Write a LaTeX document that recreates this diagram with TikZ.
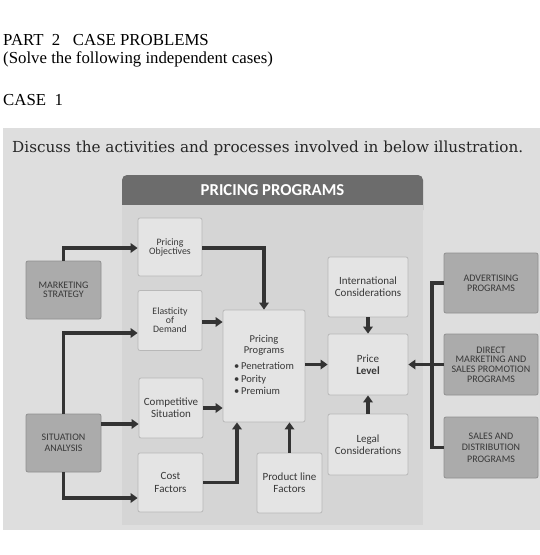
\documentclass[tikz,border=0pt]{standalone}
\usepackage{fontspec}
\setmainfont{Liberation Serif}
\newfontfamily\diagfont{Carlito}
\newfontfamily\taskfont{DejaVu Serif}
\usetikzlibrary{arrows.meta}
\usetikzlibrary{calc}
\usetikzlibrary{positioning}

\definecolor{sheetgray}{HTML}{DEDEDE}
\definecolor{panelgray}{HTML}{D5D5D5}
\definecolor{headgray}{HTML}{6C6C6C}
\definecolor{boxfill}{HTML}{E4E4E4}
\definecolor{boxedge}{HTML}{B8B8B8}
\definecolor{darkfill}{HTML}{ABABAB}
\definecolor{darkedge}{HTML}{909090}
\definecolor{boxtext}{HTML}{383838}
\definecolor{arrowgray}{HTML}{333333}

\tikzset{
  lightbox/.style={draw=boxedge,fill=boxfill,line width=0.8pt,rounded corners=2pt,
    minimum width=64pt,minimum height=60pt,inner sep=1pt,align=center,text=boxtext,
    font=\diagfont\fontsize{11}{12.3}\selectfont},
  tightbox/.style={lightbox,font=\diagfont\fontsize{9.8}{9}\selectfont},
  darkbox/.style={draw=darkedge,fill=darkfill,line width=0.8pt,rounded corners=2pt,
    minimum width=75pt,minimum height=58pt,inner sep=1pt,align=center,text=boxtext,
    font=\diagfont\fontsize{10}{9.8}\selectfont},
  flow/.style={draw=arrowgray,line width=3.2pt,-{Triangle[width=9.5pt,length=7pt]}},
  link/.style={draw=arrowgray,line width=3.2pt},
  pagetext/.style={anchor=base west,inner sep=0pt,font=\fontsize{16.8}{20}\selectfont}
}

\begin{document}
\begin{tikzpicture}[x=1pt,y=-1pt]

  \useasboundingbox (0,0) rectangle (540,555);

  % heading of the page
  \node [pagetext] (part) at (3,45) {PART\ \ 2\ \ \ CASE PROBLEMS};
  \node [pagetext] (solve) at (3,63) {(Solve the following independent cases)};
  \node [pagetext] (case) at (3,105) {CASE\ \ 1};

  % grey sheet and the pricing panel
  \fill [sheetgray] (3,128) rectangle (540,530);
  \node [anchor=base west,inner sep=0pt,font=\taskfont\fontsize{15.2}{18}\selectfont,text=black!85] (task) at (12,152)
    {Discuss the activities and processes involved in below illustration.};
  \fill [headgray,rounded corners=5pt] (122,175) rectangle (423,215);
  \fill [panelgray] (122,205) rectangle (423,525);
  \node [text=white,font=\diagfont\bfseries\fontsize{16.7}{18}\selectfont] (head) at (272.5,190) {PRICING PROGRAMS};

  % boxes inside the panel
  \node [tightbox,minimum height=58pt] (po) at (170,247) {Pricing\\Objectives};
  \node [tightbox] (ed) at (170,320.5) {Elasticity\\of\\Demand};
  \node [lightbox] (cs) at (171,408) {Competitive\\Situation};
  \node [lightbox,minimum width=65pt,minimum height=59pt] (cf) at (170.5,482.5) {Cost\\Factors};
  \node [lightbox,minimum width=82pt,minimum height=112pt,font=\diagfont\fontsize{10.5}{12.5}\selectfont] (pp) at (264,366)
    {\begin{tabular}{@{}l@{}}
       \multicolumn{1}{@{}c@{}}{Pricing}\\[-1.5pt]
       \multicolumn{1}{@{}c@{}}{Programs}\\[3.5pt]
       \textbullet\,Penetratiom\\[0.5pt]
       \textbullet\,Pority\\[0pt]
       \textbullet\,Premium
     \end{tabular}};
  \node [lightbox,minimum width=65pt] (pl) at (289.5,483) {Product line\\Factors};
  \node [lightbox,minimum width=80pt] (ic) at (368,287) {International\\Considerations};
  \node [lightbox,minimum width=80pt,minimum height=61pt] (pr) at (368,364.5) {Price\\\textbf{Level}};
  \node [lightbox,minimum width=80pt,minimum height=61pt] (lc) at (368,444.5) {Legal\\Considerations};

  % boxes outside the panel
  \node [darkbox,font=\diagfont\fontsize{10}{9}\selectfont] (ms) at (63.5,290) {MARKETING\\STRATEGY};
  \node [darkbox,font=\diagfont\fontsize{10}{11}\selectfont] (sa) at (63.5,443) {SITUATION\\ANALYSIS};
  \node [darkbox,minimum width=94pt,minimum height=60pt] (adv) at (491,283) {ADVERTISING\\PROGRAMS};
  \node [darkbox,minimum width=94pt,minimum height=61pt] (dm) at (491,364.5)
    {DIRECT\\MARKETING AND\\SALES PROMOTION\\PROGRAMS};
  \node [darkbox,minimum width=94pt,minimum height=61pt,font=\diagfont\fontsize{10}{11.5}\selectfont] (sd) at (491,447.5)
    {SALES AND\\DISTRIBUTION\\PROGRAMS};
  \coordinate (bus) at (432,364.5);

  % connectors
  \draw [flow] (ms.north) |- ([yshift=-1pt]po.west);
  \draw [flow] ([yshift=-1pt]po.east) -| (pp.north);
  \draw [flow] ([yshift=-1.5pt]ed.east) -- ([yshift=-1.5pt]ed.east -| pp.west);
  \draw [flow] (cs.east) -- (cs.east -| pp.west);
  \draw [flow] (sa.north) |- ([yshift=-12.5pt]ed.west);
  \draw [flow] ([yshift=19pt]sa.east) -- ([yshift=19pt]sa.east -| cs.west);
  \draw [flow] (sa.south) |- ([yshift=-15.5pt]cf.west);
  \draw [flow] (cf.east) -| ([xshift=-27pt]pp.south);
  \draw [flow] (pl.north) -- (pl.north |- pp.south);
  \draw [flow] (pp.east |- pr.west) -- (pr.west);
  \draw [flow] (ic.south) -- (pr.north);
  \draw [flow] (lc.north) -- (pr.south);
  \draw [link] (adv.west) -| (bus) |- (sd.west);
  \draw [flow] (dm.west) -- (pr.east);

\end{tikzpicture}
\end{document}
